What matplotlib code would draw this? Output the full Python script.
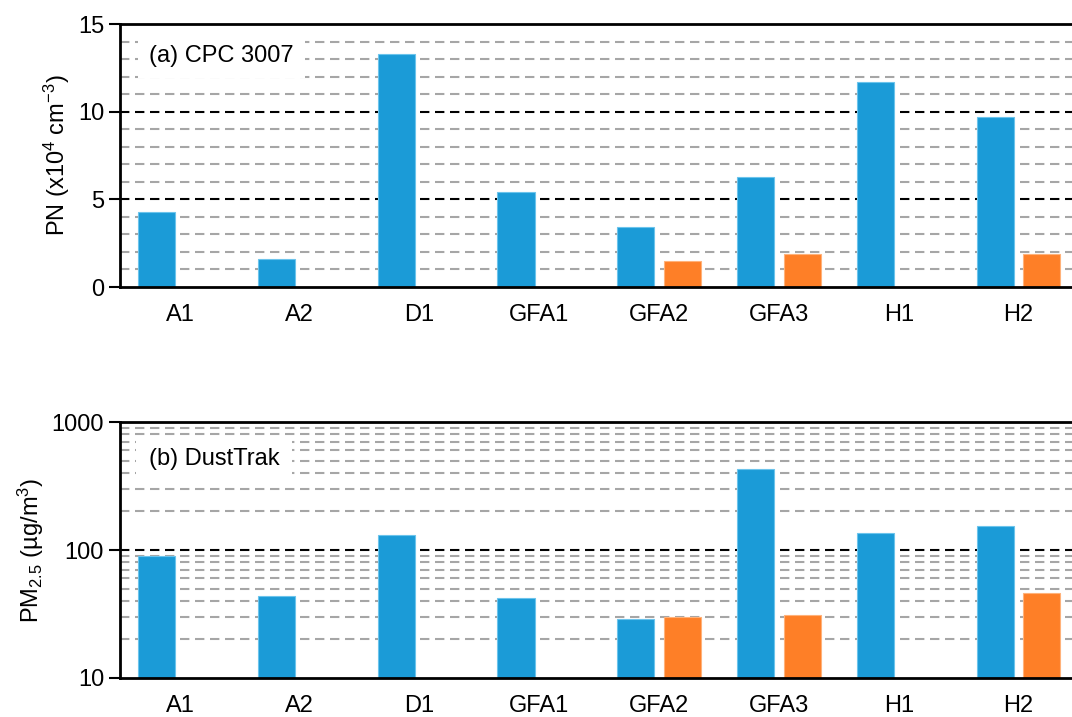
import numpy as np
import matplotlib
matplotlib.use("Agg")
import matplotlib.pyplot as plt
from matplotlib.ticker import FixedLocator, NullFormatter

plt.rcParams['font.family'] = ['Liberation Sans', 'DejaVu Sans']
plt.rcParams['mathtext.fontset'] = 'custom'
plt.rcParams['mathtext.rm'] = 'Liberation Sans'
plt.rcParams['mathtext.it'] = 'Liberation Sans'
plt.rcParams['mathtext.default'] = 'regular'

sites = ['A1', 'A2', 'D1', 'GFA1', 'GFA2', 'GFA3', 'H1', 'H2']
pn_blue = [4.3, 1.6, 13.3, 5.4, 3.4, 6.3, 11.7, 9.7]
pn_orange = [0, 0, 0, 0, 1.5, 1.9, 0, 1.9]
pm_blue = [90, 44, 130, 42, 29, 430, 137, 155]
pm_orange = [np.nan, np.nan, np.nan, np.nan, 30, 31, np.nan, 46]

blue = '#1b9bd7'
orange = '#fe7f27'
x = np.arange(len(sites))
w = 0.31
off = 0.195
fs = 17
dash = (0, (4.5, 2.7))

fig = plt.figure(figsize=(10.72, 7.17), dpi=100)
ax1 = fig.add_axes([0.112, 0.5997, 0.894, 0.3668])
ax2 = fig.add_axes([0.112, 0.0544, 0.894, 0.357])


def style(ax):
    for s in ['left', 'bottom', 'top']:
        ax.spines[s].set_linewidth(2)
        ax.spines[s].set_color('black')
    ax.spines['right'].set_visible(False)
    ax.tick_params(axis='y', which='major', direction='out', length=8, width=1.5,
                   labelsize=fs)
    ax.tick_params(axis='y', which='minor', length=0)
    ax.tick_params(axis='x', length=0, labelsize=fs, pad=12)
    ax.set_xlim(-0.5, 7.5)
    ax.set_xticks(x)
    ax.set_xticklabels(sites)
    ax.set_axisbelow(True)


# (a) CPC
style(ax1)
ax1.bar(x - off, pn_blue, w, color=blue, edgecolor='#6cc4ec', linewidth=0.8)
ax1.bar(x + off, pn_orange, w, color=orange, edgecolor='#ffb27a', linewidth=0.8)
ax1.set_ylim(0, 15)
ax1.set_yticks([0, 5, 10, 15])
ax1.yaxis.set_minor_locator(FixedLocator([v for v in range(1, 15) if v % 5]))
for v in range(1, 15):
    if v % 5:
        ax1.axhline(v, color='#a6a6a6', lw=1.5, ls=dash, zorder=0)
    else:
        ax1.axhline(v, color='black', lw=1.5, ls=dash, zorder=0)
ax1.set_ylabel('PN (x10$^4$ cm$^{-3}$)', fontsize=fs)
ax1.text(0.03, 0.88, '(a) CPC 3007', transform=ax1.transAxes, fontsize=fs,
         va='center', ha='left', zorder=5,
         bbox=dict(facecolor='white', edgecolor='none', pad=8))

# (b) DustTrak
style(ax2)
ax2.set_yscale('log')
ax2.bar(x - off, pm_blue, w, color=blue, edgecolor='#6cc4ec', linewidth=0.8)
ax2.bar(x + off, pm_orange, w, color=orange, edgecolor='#ffb27a', linewidth=0.8)
ax2.set_ylim(10, 1000)
ax2.set_yticks([10, 100, 1000])
ax2.set_yticklabels(['10', '100', '1000'])
ax2.yaxis.set_minor_formatter(NullFormatter())
ax2.tick_params(axis='y', which='minor', length=0)
for dec in [10, 100]:
    for m in range(2, 10):
        ax2.axhline(dec * m, color='#a6a6a6', lw=1.5, ls=dash, zorder=0)
ax2.axhline(100, color='black', lw=1.5, ls=dash, zorder=0)
ax2.set_ylabel('PM$_{2.5}$ (µg/m$^3$)', fontsize=fs)
ax2.text(0.03, 0.855, '(b) DustTrak', transform=ax2.transAxes, fontsize=fs,
         va='center', ha='left', zorder=5,
         bbox=dict(facecolor='white', edgecolor='none', pad=9))

fig.savefig('out.png', dpi=100)
